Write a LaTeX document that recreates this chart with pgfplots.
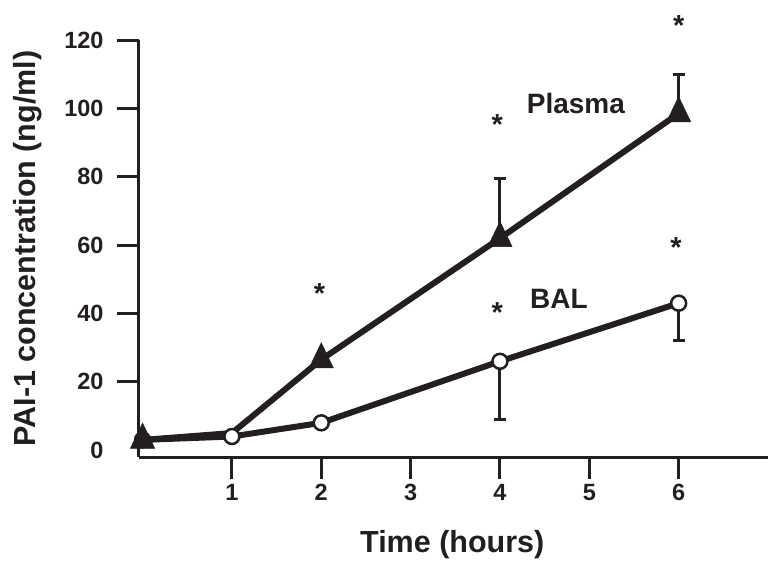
\documentclass[border=0pt]{standalone}
\usepackage{fontspec}
\setmainfont{Liberation Sans}
\usepackage{pgfplots}
\pgfplotsset{compat=1.18}
\definecolor{ink}{HTML}{231F20}
\tikzset{astk/.style={font=\fontsize{29}{34}\selectfont\bfseries, text=ink, yshift=-6pt}}
\begin{document}
\begin{tikzpicture}
\begin{axis}[
  scale only axis, width=629pt, height=417pt,
  xmin=-0.04, xmax=7, ymin=-2, ymax=120,
  axis x line=bottom, axis y line=left,
  axis line style={line width=3pt, -, draw=ink},
  xtick={1,...,6}, ytick={20,40,...,120},
  extra y ticks={0},
  extra y tick style={major tick length=0pt, tick label style={xshift=-22pt}},
  tick align=outside, major tick length=22pt,
  tick style={line width=3pt, draw=ink},
  /pgf/number format/assume math mode=true,
  tick label style={font=\fontsize{23.5}{28}\selectfont\bfseries, text=ink},
  yticklabel style={xshift=-10pt},
  xticklabel style={yshift=-2pt},
  clip=false,
  xlabel={Time (hours)}, ylabel={PAI-1 concentration (ng/ml)},
  label style={font=\fontsize{30.5}{36}\selectfont\bfseries, text=ink},
  xlabel style={at={(axis description cs:0.498,-0.211)}, anchor=center},
  ylabel style={at={(axis description cs:-0.1765,0.5)}, anchor=center},
]
% error bars
\addplot[only marks, mark=none, forget plot,
  error bars/.cd, y dir=plus, y explicit,
  error bar style={draw=ink, line width=3pt},
  error mark options={rotate=90, mark size=6pt, line width=3pt, draw=ink}]
  coordinates {(4,62) +- (0,17.5) (6,98.5) +- (0,11.5)};
\addplot[only marks, mark=none, forget plot,
  error bars/.cd, y dir=minus, y explicit,
  error bar style={draw=ink, line width=3pt},
  error mark options={rotate=90, mark size=6pt, line width=3pt, draw=ink}]
  coordinates {(4,26) +- (0,17) (6,43) +- (0,11)};
% Plasma line
\addplot[ink, line width=6pt, line join=round, mark=none]
  coordinates {(0,3) (1,5) (2,26.5) (4,62) (6,98.5)};
% BAL line + circles
\addplot[ink, line width=6pt, line join=round, mark=*, mark size=7.5pt,
  mark options={fill=white, draw=ink, line width=2.5pt}]
  coordinates {(0,3) (1,4) (2,8) (4,26) (6,43)};
% Plasma triangles
\addplot[only marks, mark=triangle*, mark size=14pt,
  mark options={fill=ink, draw=ink, line width=0.5pt, yscale=1.2}]
  coordinates {(0,3) (2,26.5) (4,62) (6,98.5)};
% labels
\node[anchor=base, font=\fontsize{28}{32}\selectfont\bfseries, text=ink] at (axis cs:4.85,98.5) {Plasma};
\node[anchor=base, font=\fontsize{28}{32}\selectfont\bfseries, text=ink] at (axis cs:4.66,41.5) {BAL};
% asterisks
\node[astk] at (axis cs:1.98,47.5) {*};
\node[astk] at (axis cs:3.97,97) {*};
\node[astk] at (axis cs:3.97,42) {*};
\node[astk] at (axis cs:6.0,126) {*};
\node[astk] at (axis cs:5.97,61) {*};
\end{axis}
\pgfresetboundingbox
\path[use as bounding box] ([shift={(-139pt,-114pt)}]current axis.south west) rectangle ++(779pt,571pt);
\end{tikzpicture}
\end{document}
